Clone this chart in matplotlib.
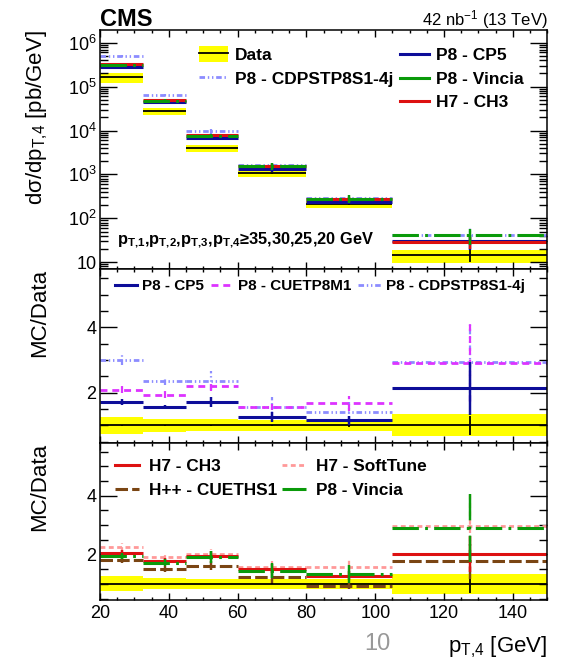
import matplotlib
matplotlib.use("Agg")
import matplotlib.pyplot as plt
import numpy as np
from matplotlib.lines import Line2D
from matplotlib.patches import Patch
from matplotlib.ticker import (FixedLocator, MultipleLocator, LogLocator,
                               FuncFormatter, NullFormatter)

plt.rcParams["font.family"] = ["Liberation Sans", "DejaVu Sans"]
plt.rcParams["mathtext.fontset"] = "custom"
plt.rcParams["mathtext.rm"] = "Liberation Sans"
plt.rcParams["mathtext.it"] = "Liberation Sans:italic"
plt.rcParams["mathtext.bf"] = "Liberation Sans:bold"
plt.rcParams["mathtext.default"] = "regular"
plt.rcParams["lines.scale_dashes"] = False

# pT,4 binning and mean pT per bin
edges = [20, 32.5, 45, 60, 80, 105, 150]
centers = [26.5, 38.8, 52.4, 69.9, 92.3, 127.4]

# measured cross section [pb/GeV], total (band) and stat uncertainties (relative)
data_xs = [1.64e5, 2.8e4, 4.05e3, 1.05e3, 2.1e2, 14.3]
data_syst = [0.25, 0.19, 0.18, 0.17, 0.17, 0.34]
data_stat = [0.01, 0.01, 0.01, 0.02, 0.04, 0.30]

# MC / Data ratios and their stat errors
cp5 = [1.71, 1.56, 1.71, 1.26, 1.15, 2.13]
cp5_err = [0.10, 0.07, 0.15, 0.15, 0.15, 0.80]
cuetp8m1 = [2.09, 1.94, 2.20, 1.56, 1.67, 2.91]
cuetp8m1_err = [0.10, 0.10, 0.15, 0.10, 0.23, 1.20]
cdpstp = [3.01, 2.35, 2.37, 1.56, 1.40, 2.94]
cdpstp_err = [0.15, 0.12, 0.28, 0.30, 0.30, 1.20]
ch3 = [2.04, 1.79, 1.95, 1.51, 1.28, 2.01]
ch3_err = [0.10, 0.10, 0.15, 0.15, 0.15, 0.60]
softtune = [2.24, 1.90, 2.02, 1.57, 1.57, 2.97]
softtune_err = [0.15, 0.10, 0.15, 0.20, 0.25, 1.10]
cueths1 = [1.81, 1.51, 1.62, 1.23, 0.93, 1.76]
cueths1_err = [0.10, 0.10, 0.15, 0.20, 0.10, 0.60]
vincia = [1.94, 1.71, 1.90, 1.45, 1.34, 2.89]
vincia_err = [0.10, 0.12, 0.20, 0.25, 0.30, 1.15]

YELLOW = "#FFFF00"
C_CP5 = "#0D0D99"
C_M1 = "#DD33FF"
C_CDP = "#8C8CFF"
C_CH3 = "#DD1111"
C_SOFT = "#FF9999"
C_HPP = "#7A4513"
C_VIN = "#0A9A0A"

LS_M1 = (0, (5, 3.5))
LS_CDP = (0, (4, 2, 1, 2, 1, 2))
LS_SOFT = (0, (3.5, 2.5))
LS_HPP = (0, (9, 3))
LS_VIN = (0, (19, 4.5, 2, 4.5))

lo = np.array(edges[:-1])
hi = np.array(edges[1:])
xs = np.array(data_xs)


def draw_series(ax, vals, errs, color, lw, ls="solid", scale=None):
    y = np.array(vals, dtype=float)
    e = np.array(errs, dtype=float)
    if scale is not None:
        y = y * scale
        e = e * scale
    ax.hlines(y, lo, hi, colors=color, lw=lw, linestyles=ls)
    eb = ax.errorbar(centers, y, yerr=e, fmt="none", ecolor=color, elinewidth=lw * 0.8)
    for c in eb[2]:
        c.set_linestyle(ls)


def draw_data(ax, ratio=False):
    if ratio:
        y = np.ones(len(xs))
        band = np.array(data_syst)
        stat = np.array(data_stat)
    else:
        y = xs
        band = xs * np.array(data_syst)
        stat = xs * np.array(data_stat)
    ax.bar(lo, 2 * band, bottom=y - band, width=hi - lo, align="edge",
           color=YELLOW, lw=0)
    ax.hlines(y, lo, hi, colors="black", lw=1.3)
    ax.errorbar(centers, y, yerr=stat, fmt="none", ecolor="black", elinewidth=1.3)


def style_axes(ax, xlabels=False):
    ax.set_xlim(20, 150)
    ax.xaxis.set_major_locator(MultipleLocator(20))
    ax.xaxis.set_minor_locator(MultipleLocator(5))
    ax.tick_params(axis="both", which="both", direction="in", top=True, right=True)
    ax.tick_params(axis="x", which="major", length=5, width=1, labelsize=13, pad=3.5)
    ax.tick_params(axis="x", which="minor", length=2.5, width=1)
    ax.tick_params(axis="y", which="major", length=12, width=1, labelsize=13, pad=2.5)
    ax.tick_params(axis="y", which="minor", length=6, width=1)
    if not xlabels:
        ax.tick_params(axis="x", labelbottom=False)
    for s in ax.spines.values():
        s.set_linewidth(1.1)


fig = plt.figure(figsize=(5.69, 6.60), dpi=100)
W, H = 569.0, 660.0
left, width = 100 / W, 447.3 / W
ax1 = fig.add_axes([left, 1 - 269.3 / H, width, 239.3 / H])
ax2 = fig.add_axes([left, 1 - 443.3 / H, width, 174.0 / H])
ax3 = fig.add_axes([left, 1 - 600.0 / H, width, 156.7 / H])

# ---- cross section panel
draw_data(ax1)
draw_series(ax1, cdpstp, cdpstp_err, C_CDP, 2.0, LS_CDP, scale=xs)
draw_series(ax1, cp5, cp5_err, C_CP5, 2.2, scale=xs)
draw_series(ax1, ch3, ch3_err, C_CH3, 2.2, scale=xs)
draw_series(ax1, vincia, vincia_err, C_VIN, 2.2, LS_VIN, scale=xs)
ax1.set_yscale("log")
ax1.set_ylim(6.9, 1.95e6)
ax1.yaxis.set_major_locator(LogLocator(base=10))
ax1.yaxis.set_minor_locator(LogLocator(base=10, subs=np.arange(2, 10)))
ax1.yaxis.set_minor_formatter(NullFormatter())
ax1.yaxis.set_major_formatter(FuncFormatter(
    lambda v, p: "10" if abs(v - 10) < 1e-6 else r"$10^{%d}$" % round(np.log10(v))))
style_axes(ax1)
ax1.set_ylabel(r"dσ/dp$_{T{,}4}$ [pb/GeV]", fontsize=16, loc="top")
ax1.yaxis.set_label_coords(-0.112, 1.0)
cut_text = ("p$_{\\mathbf{T{,}1}}$,p$_{\\mathbf{T{,}2}}$,p$_{\\mathbf{T{,}3}}$,"
            "p$_{\\mathbf{T{,}4}}$≥35,30,25,20 GeV")
ax1.text(0.037, 0.105, cut_text, transform=ax1.transAxes, fontsize=11.8,
         fontweight="bold", va="baseline")

data_handle = (Patch(facecolor=YELLOW, edgecolor="none"), Line2D([], [], color="black", lw=1.3))
leg_a = ax1.legend([data_handle, Line2D([], [], color=C_CDP, lw=2, ls=LS_CDP)],
                   ["Data", "P8 - CDPSTP8S1-4j"],
                   loc="upper left", bbox_to_anchor=(0.2213, 0.933), frameon=False,
                   borderpad=0, borderaxespad=0, handlelength=1.67, handleheight=1.05,
                   handletextpad=0.4, labelspacing=0.42,
                   prop={"weight": "bold", "size": 12.5})
ax1.add_artist(leg_a)
ax1.legend([Line2D([], [], color=C_CP5, lw=2.2),
            Line2D([], [], color=C_VIN, lw=2.2),
            Line2D([], [], color=C_CH3, lw=2.2)],
           ["P8 - CP5", "P8 - Vincia", "H7 - CH3"],
           loc="upper left", bbox_to_anchor=(0.6707, 0.9235), frameon=False,
           borderpad=0, borderaxespad=0, handlelength=1.67, handletextpad=0.4,
           labelspacing=0.47, prop={"weight": "bold", "size": 12.5})

# ---- Pythia8 ratio panel
draw_data(ax2, ratio=True)
draw_series(ax2, cdpstp, cdpstp_err, C_CDP, 2.0, LS_CDP)
draw_series(ax2, cuetp8m1, cuetp8m1_err, C_M1, 2.0, LS_M1)
draw_series(ax2, cp5, cp5_err, C_CP5, 2.2)

# ---- Herwig / Vincia ratio panel
draw_data(ax3, ratio=True)
draw_series(ax3, softtune, softtune_err, C_SOFT, 2.0, LS_SOFT)
draw_series(ax3, cueths1, cueths1_err, C_HPP, 2.2, LS_HPP)
draw_series(ax3, ch3, ch3_err, C_CH3, 2.2)
draw_series(ax3, vincia, vincia_err, C_VIN, 2.2, LS_VIN)

for ax in (ax2, ax3):
    ax.set_ylim(0.45, 5.78)
    ax.yaxis.set_major_locator(FixedLocator([2, 4]))
    ax.yaxis.set_minor_locator(MultipleLocator(0.5))
    ax.set_ylabel("MC/Data", fontsize=16, loc="top")
    ax.yaxis.set_label_coords(-0.112, 1.0)

style_axes(ax2)
style_axes(ax3, xlabels=True)

ax2.legend([Line2D([], [], color=C_CP5, lw=2.2),
            Line2D([], [], color=C_M1, lw=2, ls=LS_M1),
            Line2D([], [], color=C_CDP, lw=2, ls=LS_CDP)],
           ["P8 - CP5", "P8 - CUETP8M1", "P8 - CDPSTP8S1-4j"],
           ncol=3, loc="upper left", bbox_to_anchor=(0.0335, 0.942), frameon=False,
           borderpad=0, borderaxespad=0, handlelength=1.45, handletextpad=0.33,
           columnspacing=0.45, prop={"weight": "bold", "size": 11.0})

ax3.legend([Line2D([], [], color=C_CH3, lw=2.2),
            Line2D([], [], color=C_HPP, lw=2.2, ls=LS_HPP),
            Line2D([], [], color=C_SOFT, lw=2, ls=LS_SOFT),
            Line2D([], [], color=C_VIN, lw=2.2, ls=LS_VIN)],
           ["H7 - CH3", "H++ - CUETHS1", "H7 - SoftTune", "P8 - Vincia"],
           ncol=2, loc="upper left", bbox_to_anchor=(0.0335, 0.897), frameon=False,
           borderpad=0, borderaxespad=0, handlelength=1.4, handletextpad=0.55,
           columnspacing=0.3, labelspacing=0.47, prop={"weight": "bold", "size": 12.4})

ax3.set_xlabel(r"p$_{T{,}4}$ [GeV]", fontsize=16, loc="right")
ax3.xaxis.set_label_coords(1.0, -0.223)

fig.text(100 / W, 1 - 26 / H, "CMS", fontsize=17, fontweight="bold", va="baseline")
fig.text(548 / W, 1 - 25 / H, r"42 nb$^{-1}$ (13 TeV)", fontsize=12, ha="right", va="baseline")
fig.text(377 / W, 1 - 644 / H, "10", fontsize=17, color="#999999", ha="center", va="center")

fig.savefig("out.png", dpi=100)
